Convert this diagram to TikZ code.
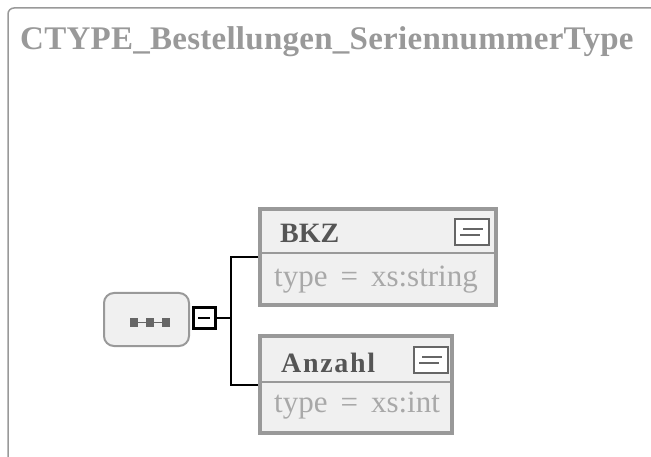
\documentclass[tikz,border=0pt]{standalone}
\usepackage{fontspec}
\setmainfont{Liberation Serif}
\usetikzlibrary{positioning}

\definecolor{framegray}{HTML}{999999}
\definecolor{boxfill}{HTML}{F0F0F0}
\definecolor{namegray}{HTML}{555555}
\definecolor{typegray}{HTML}{A8A8A8}
\definecolor{icongray}{HTML}{666666}
\newcommand\namefont{\fontsize{28}{30}\selectfont\bfseries}
\newcommand\typefont{\fontsize{31}{34}\selectfont\spaceskip 13pt\relax}

\begin{document}
\begin{tikzpicture}[x=1pt,y=-1pt,
  elem/.style={draw=framegray, line width=4pt, fill=boxfill, inner sep=0pt},
  seqbox/.style={draw=framegray, line width=2pt, fill=boxfill, rounded corners=10pt, inner sep=0pt, minimum width=85pt, minimum height=53pt},
  minusbox/.style={draw, line width=2.5pt, fill=white, inner sep=0pt, minimum width=22pt, minimum height=21pt},
  docicon/.style={draw=icongray, line width=2pt, fill=white, inner sep=0pt, minimum width=34pt, minimum height=26pt},
  elname/.style={anchor=base west, inner sep=0pt, text=namegray, font=\namefont},
  eltype/.style={anchor=base west, inner sep=0pt, text=typegray, font=\typefont},
  link/.style={line width=2.5pt}]
\useasboundingbox (0,0) rectangle (651,457);
\clip (0,0) rectangle (651,457);
% outer frame and title
\draw[framegray, line width=1.5pt, rounded corners=6pt] (8,8) rectangle (680,490);
\node[anchor=base west, inner sep=0pt, text=framegray, font=\fontsize{33}{36}\selectfont\bfseries\addfontfeatures{LetterSpace=0.8}] (title) at (20,50) {CTYPE\_Bestellungen\_SeriennummerType};
% sequence compositor
\node[seqbox] (seq) at (146.5,319.5) {};
\foreach \x in {134,150,166}
  \fill[icongray] (\x-4,318) rectangle (\x+4,327);
\draw[icongray, line width=1pt] (134,322.5) -- (166,322.5);
\node[minusbox, anchor=west] (minus) at ([xshift=2pt]seq.east |- 0,318) {};
\draw[line width=2.5pt] ([xshift=-6pt]minus.center) -- ([xshift=6pt]minus.center);
% element BKZ
\node[elem, minimum width=236pt, minimum height=96pt] (bkz) at (378,257) {};
\draw[framegray, line width=2pt] (bkz.west |- 0,253) -- (bkz.east |- 0,253);
\node[elname] (bkzname) at (280,243) {BKZ};
\node[docicon] (bkzdoc) at (472,232) {};
\draw[icongray, line width=1.5pt] (463,229) -- (483,229) (460,235) -- (480,235);
\node[eltype] (bkztype) at (274,287) {type = xs:string};
% element Anzahl
\node[elem, minimum width=192pt, minimum height=97pt] (anz) at (356,384.5) {};
\draw[framegray, line width=2pt] (anz.west |- 0,382) -- (anz.east |- 0,382);
\node[elname, font={\namefont\addfontfeatures{LetterSpace=6}}] (anzname) at (281,372) {Anzahl};
\node[docicon] (anzdoc) at (431,360) {};
\draw[icongray, line width=1.5pt] (422,357) -- (442,357) (419,363) -- (439,363);
\node[eltype] (anztype) at (274,412) {type = xs:int};
% connectors
\coordinate (fork) at (231,318);
\draw[link] (minus.east) -- (fork);
\draw[link] (bkz.west |- 0,257) -| (fork) |- (anz.west |- 0,385);
\end{tikzpicture}
\end{document}
